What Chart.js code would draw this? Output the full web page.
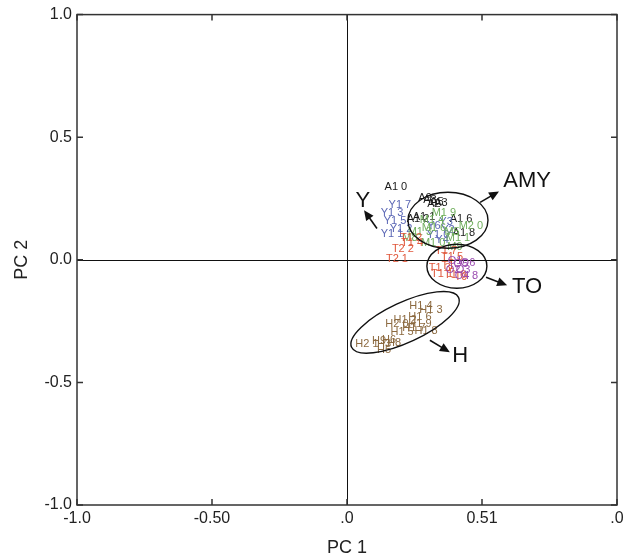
<!DOCTYPE html>
<html>
<head>
<meta charset="utf-8">
<title>PCA scores PC 1 / PC 2</title>
<script src="https://cdn.jsdelivr.net/npm/chart.js@4.4.0/dist/chart.umd.min.js"></script>
<style>
    html, body { margin: 0; padding: 0; background: #fff; }
    #chart-wrap { width: 629px; height: 560px; position: relative; }
</style>
</head>
<body>
<div id="chart-wrap"><canvas id="pca-chart"></canvas></div>
<script>
// tick values and the labels printed for them
var tickValues = [-1, -0.5, 0, 0.5, 1];
var xTickLabels = ['-1.0', '-0.50', '.0', '0.51', '.0'];
var yTickLabels = ['-1.0', '-0.5', '0.0', '0.5', '1.0'];

// sample scores, one set of arrays per group
var aNames = ['A1 0', 'A9', 'A8', 'A5', 'A3', 'A2', 'A1 1', 'A1 2', 'A1 6', 'A1 8'];
var aX = [0.181, 0.289, 0.307, 0.333, 0.348, 0.322, 0.285, 0.263, 0.422, 0.433];
var aY = [0.299, 0.251, 0.242, 0.234, 0.230, 0.226, 0.173, 0.165, 0.165, 0.108];

var yNames = ['Y1 7', 'Y1 3', 'Y1 5', 'Y1 2', 'Y1 1', 'Y6', 'Y3', 'Y2', 'Y1 0', 'Y4'];
var yX = [0.196, 0.167, 0.178, 0.200, 0.167, 0.322, 0.367, 0.374, 0.337, 0.352];
var yY = [0.222, 0.189, 0.157, 0.124, 0.104, 0.136, 0.153, 0.120, 0.100, 0.079];

var mNames = ['M1 9', 'M2 0', 'M1 4', 'M1 6', 'M5', 'M1 3', 'M1 0', 'M9', 'M8', 'M1 1'];
var mX = [0.359, 0.459, 0.315, 0.322, 0.389, 0.270, 0.319, 0.400, 0.233, 0.411];
var mY = [0.193, 0.136, 0.161, 0.128, 0.112, 0.112, 0.067, 0.051, 0.088, 0.088];

var tNames = ['T2 2', 'T2 1', 'T1 2', 'T1 4', 'T1 7', 'T1 5', 'T1 3', 'T1 1', 'T1 6', 'T9', 'T1'];
var tX = [0.207, 0.185, 0.237, 0.241, 0.367, 0.389, 0.344, 0.352, 0.400, 0.422, 0.374];
var tY = [0.043, 0.002, 0.088, 0.067, 0.035, 0.010, -0.035, -0.059, -0.063, -0.071, -0.026];

var oNames = ['O1', 'O5', 'O3', 'O2', 'O4', 'O6', '8'];
var oX = [0.400, 0.422, 0.430, 0.393, 0.426, 0.448, 0.474];
var oY = [-0.006, -0.018, -0.043, -0.043, -0.067, -0.014, -0.067];

var hNames = ['H1 4', 'H1 3', 'H1 6', 'H1 2', 'H2 0', 'H1 9', 'H1 7', 'H1 8', 'H1 5', 'H9', 'H6', 'H8', 'H2 1', 'H3', 'H5'];
var hX = [0.274, 0.311, 0.270, 0.215, 0.185, 0.270, 0.248, 0.293, 0.204, 0.119, 0.156, 0.174, 0.074, 0.137, 0.137];
var hY = [-0.189, -0.204, -0.234, -0.246, -0.263, -0.263, -0.279, -0.291, -0.295, -0.332, -0.328, -0.340, -0.344, -0.344, -0.369];

// group annotations (data coordinates)
var groupTags = ['Y', 'AMY', 'TO', 'H'];
var tagX = [0.059, 0.667, 0.667, 0.419];
var tagY = [0.242, 0.320, -0.112, -0.393];
var arrowFromX = [0.111, 0.493, 0.515, 0.307];
var arrowFromY = [0.128, 0.234, -0.071, -0.328];
var arrowToX = [0.063, 0.563, 0.593, 0.381];
var arrowToY = [0.202, 0.279, -0.104, -0.377];
var ellipseX = [0.374, 0.407, 0.215];
var ellipseY = [0.161, -0.026, -0.255];

var FONT = '"Liberation Sans", Arial, Helvetica, sans-serif';

function toPoints(xs, ys, names) {
    return xs.map(function (x, i) {
        return {x: x, y: ys[i], name: names[i]};
    });
}

function group(label, xs, ys, names, color) {
    return {
        label: label,
        data: toPoints(xs, ys, names),
        textColor: color,
        pointRadius: 0,
        pointHoverRadius: 0,
        showLine: false
    };
}

// frame, zero lines, inward ticks, text markers, ellipses and arrows
var pcaPlugin = {
    id: 'pcaDecor',
    beforeDatasetsDraw: function (chart) {
        var ctx = chart.ctx, area = chart.chartArea;
        var sx = chart.scales.x, sy = chart.scales.y;
        ctx.save();
        ctx.strokeStyle = '#111';
        ctx.lineWidth = 1;
        var x0 = Math.round(sx.getPixelForValue(0)) + 0.5;
        var y0 = Math.round(sy.getPixelForValue(0)) + 0.5;
        ctx.beginPath();
        ctx.moveTo(x0, area.top);
        ctx.lineTo(x0, area.bottom);
        ctx.moveTo(area.left, y0);
        ctx.lineTo(area.right, y0);
        ctx.stroke();
        ctx.restore();
    },
    afterDatasetsDraw: function (chart) {
        var ctx = chart.ctx;
        var sx = chart.scales.x, sy = chart.scales.y;
        ctx.save();

        // text markers at each score
        ctx.font = '11px ' + FONT;
        ctx.textAlign = 'center';
        ctx.textBaseline = 'middle';
        chart.data.datasets.forEach(function (ds, di) {
            var meta = chart.getDatasetMeta(di);
            ctx.fillStyle = ds.textColor;
            meta.data.forEach(function (pt, i) {
                ctx.fillText(ds.data[i].name, pt.x, pt.y);
            });
        });

        // group ellipses
        var radii = [[40, 28, 0], [30, 22, 0], [59, 20, -25]];
        ctx.strokeStyle = '#111';
        ctx.lineWidth = 1.4;
        ellipseX.forEach(function (ex, i) {
            ctx.beginPath();
            ctx.ellipse(sx.getPixelForValue(ex), sy.getPixelForValue(ellipseY[i]),
                radii[i][0], radii[i][1], radii[i][2] * Math.PI / 180, 0, Math.PI * 2);
            ctx.stroke();
        });

        // arrows
        ctx.fillStyle = '#111';
        ctx.lineWidth = 1.6;
        arrowFromX.forEach(function (fx, i) {
            var x1 = sx.getPixelForValue(fx), y1 = sy.getPixelForValue(arrowFromY[i]);
            var x2 = sx.getPixelForValue(arrowToX[i]), y2 = sy.getPixelForValue(arrowToY[i]);
            var ang = Math.atan2(y2 - y1, x2 - x1);
            var head = 10, half = 4.5;
            ctx.beginPath();
            ctx.moveTo(x1, y1);
            ctx.lineTo(x2 - Math.cos(ang) * head * 0.8, y2 - Math.sin(ang) * head * 0.8);
            ctx.stroke();
            ctx.beginPath();
            ctx.moveTo(x2, y2);
            ctx.lineTo(x2 - Math.cos(ang) * head - Math.sin(ang) * half, y2 - Math.sin(ang) * head + Math.cos(ang) * half);
            ctx.lineTo(x2 - Math.cos(ang) * head + Math.sin(ang) * half, y2 - Math.sin(ang) * head - Math.cos(ang) * half);
            ctx.closePath();
            ctx.fill();
        });

        // group names
        ctx.font = '22px ' + FONT;
        ctx.fillStyle = '#111';
        groupTags.forEach(function (t, i) {
            ctx.fillText(t, sx.getPixelForValue(tagX[i]), sy.getPixelForValue(tagY[i]));
        });
        ctx.restore();
    },
    afterDraw: function (chart) {
        var ctx = chart.ctx, a = chart.chartArea;
        var sx = chart.scales.x, sy = chart.scales.y;
        var tl = 6;
        ctx.save();
        ctx.strokeStyle = '#333';
        ctx.lineWidth = 1.5;
        ctx.strokeRect(a.left, a.top, a.right - a.left, a.bottom - a.top);
        ctx.beginPath();
        tickValues.forEach(function (v) {
            var px = sx.getPixelForValue(v), py = sy.getPixelForValue(v);
            ctx.moveTo(px, a.top); ctx.lineTo(px, a.top + tl);
            ctx.moveTo(px, a.bottom); ctx.lineTo(px, a.bottom - tl);
            ctx.moveTo(a.left, py); ctx.lineTo(a.left + tl, py);
            ctx.moveTo(a.right, py); ctx.lineTo(a.right - tl, py);
        });
        ctx.stroke();
        ctx.restore();
    }
};

function setTicks(scale) {
    scale.ticks = tickValues.map(function (v) { return {value: v}; });
}

Chart.defaults.font.family = FONT;
Chart.defaults.color = '#222';

var ctx = document.getElementById('pca-chart').getContext('2d');
var chart = new Chart(ctx, {
    type: 'scatter',
    data: {
        datasets: [
            group('A', aX, aY, aNames, '#1a1a1a'),
            group('Y', yX, yY, yNames, '#5b67b5'),
            group('M', mX, mY, mNames, '#6fae5c'),
            group('T', tX, tY, tNames, '#e0583c'),
            group('O', oX, oY, oNames, '#9a4bb0'),
            group('H', hX, hY, hNames, '#8c6a40')
        ]
    },
    options: {
        responsive: true, maintainAspectRatio: false, animation: false,
        events: [],
        layout: {padding: {left: 0, right: 12, top: 14, bottom: 0}},
        plugins: {legend: {display: false}, tooltip: {enabled: false}},
        scales: {
            x: {
                type: 'linear', min: -1, max: 1,
                afterBuildTicks: setTicks,
                afterFit: function (scale) { scale.height = 55; },
                grid: {display: false, drawTicks: false},
                border: {display: false},
                ticks: {
                    autoSkip: false, maxRotation: 0, padding: 4,
                    font: {size: 16},
                    callback: function (value, index) { return xTickLabels[index]; }
                },
                title: {display: true, text: 'PC 1', font: {size: 18}, padding: {top: 0, bottom: 1}}
            },
            y: {
                type: 'linear', min: -1, max: 1,
                afterBuildTicks: setTicks,
                afterFit: function (scale) { scale.width = 77; },
                grid: {display: false, drawTicks: false},
                border: {display: false},
                ticks: {
                    autoSkip: false, padding: 5,
                    font: {size: 16},
                    callback: function (value, index) { return yTickLabels[index]; }
                },
                title: {display: true, text: 'PC 2', font: {size: 18}, padding: {top: 11, bottom: 0}}
            }
        }
    },
    plugins: [pcaPlugin]
});
</script>
</body>
</html>
